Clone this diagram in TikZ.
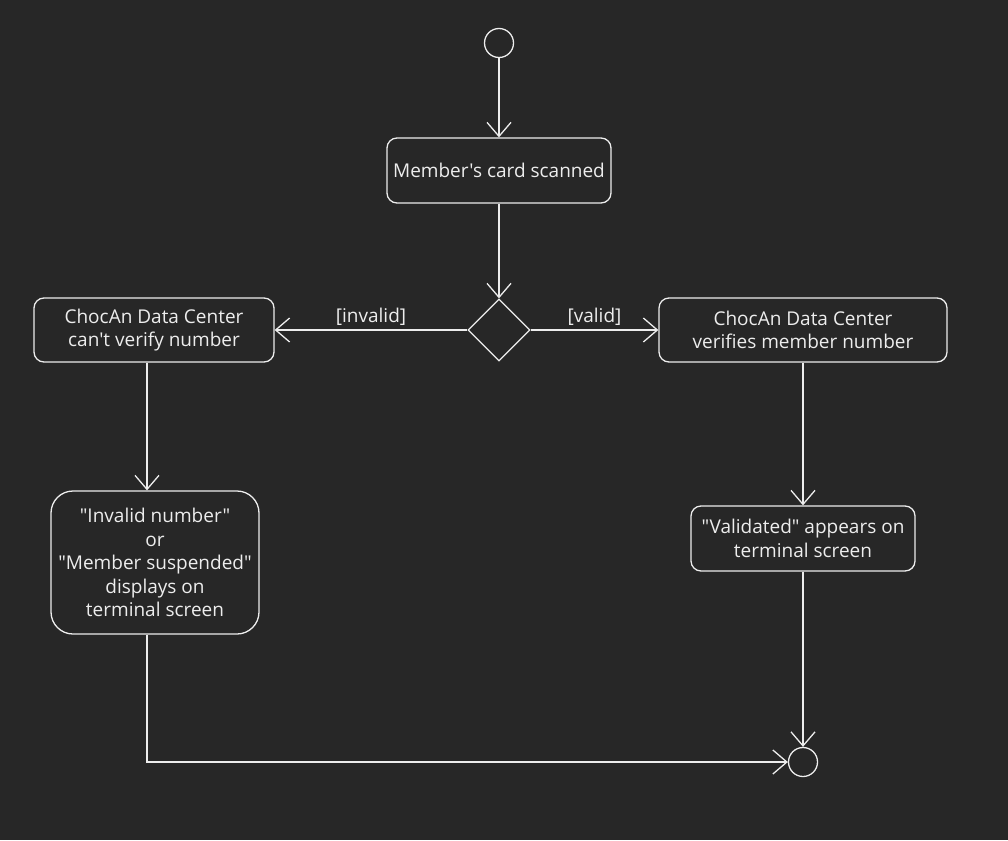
\documentclass[tikz,border=0pt]{standalone}
\usepackage{fontspec}
\setmainfont{Open Sans}[Ligatures=TeXOff]
\usetikzlibrary{arrows.meta,shapes.geometric}
\definecolor{bg}{HTML}{272727}
\definecolor{fg}{HTML}{EDEDED}
\tikzset{
  every node/.style={text=fg, font=\fontsize{19}{23.5}\selectfont},
  act/.style={draw=fg, line width=1.3pt, rounded corners=10pt, align=center, inner sep=0pt},
  flow/.style={draw=fg, line width=1.3pt, -{Straight Barb[length=14pt,width=24pt,line width=1.3pt]}},
  lbl/.style={inner sep=0pt}
}
\begin{document}
\begin{tikzpicture}[x=1pt,y=-1pt]
\fill[bg] (0,0) rectangle (1008,840);
\useasboundingbox (0,0) rectangle (1008,840);
\node[circle, draw=fg, line width=1.3pt, minimum size=29pt, inner sep=0pt] (start) at (499,43) {};
\node[act, minimum width=224pt, minimum height=65pt] (scan) at (499,170.5) {Member's card scanned};
\node[diamond, draw=fg, line width=1.3pt, minimum width=62pt, minimum height=62pt, inner sep=0pt] (dec) at (499,330) {};
\node[act, minimum width=240pt, minimum height=64pt] (inv) at (154,330) {ChocAn Data Center\\can't verify number};
\node[act, minimum width=288pt, minimum height=64pt] (ver) at (803,330) {ChocAn Data Center\\verifies member number};
\node[act, rounded corners=22pt, minimum width=208pt, minimum height=143pt] (disp) at (155,562.5) {"Invalid number"\\or\\"Member suspended"\\displays on\\terminal screen};
\node[act, minimum width=224pt, minimum height=65pt] (vald) at (803,538.5) {"Validated" appears on\\terminal screen};
\node[circle, draw=fg, line width=1.3pt, minimum size=29pt, inner sep=0pt] (end) at (803,762) {};
\coordinate (corner) at (147,762);

\draw[flow] (start) -- (scan);
\draw[flow] (scan) -- (dec);
\draw[flow] (dec) -- node[lbl, above=4pt] {[invalid]} (inv);
\draw[flow] (dec) -- node[lbl, above=4pt] {[valid]} (ver);
\draw[flow] (inv.south -| corner) -- (disp.north -| corner);
\draw[flow] (ver) -- (vald);
\draw[flow] (disp.south -| corner) -- (corner) -- (end);
\draw[flow] (vald) -- (end);
\end{tikzpicture}
\end{document}
